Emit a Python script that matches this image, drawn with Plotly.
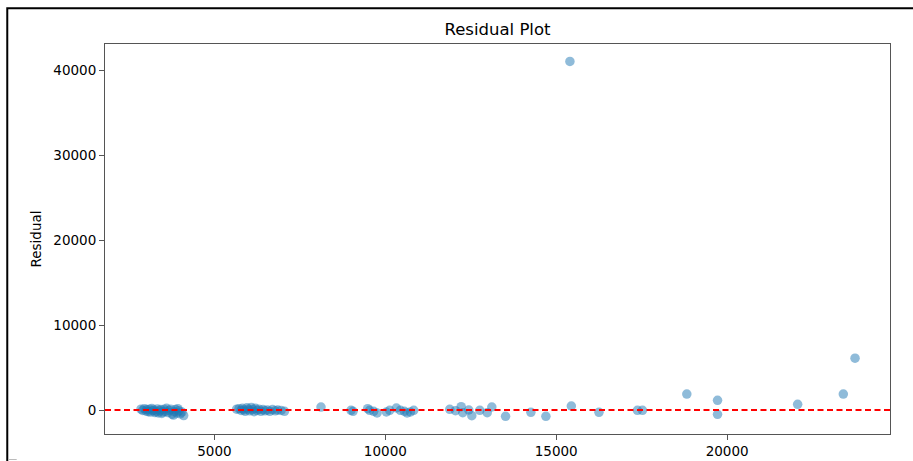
import plotly.graph_objects as go

# ---- data ----
predicted = [
    # cluster ~2800-4100
    2850, 2900, 2950, 3000, 3020, 3060, 3100, 3130, 3170, 3200, 3230, 3260,
    3300, 3330, 3360, 3400, 3430, 3460, 3500, 3530, 3560, 3600, 3640, 3680,
    3720, 3760, 3800, 3830, 3860, 3900, 3930, 3960, 4000, 4050, 4100,
    # cluster ~5600-7100
    5650, 5720, 5780, 5820, 5860, 5900, 5950, 5990, 6030, 6080, 6120, 6160,
    6200, 6250, 6300, 6360, 6420, 6480, 6550, 6620, 6700, 6780, 6850, 6950, 7050,
    # 8000-10800
    8118, 8996, 9055, 9483, 9541, 9659, 9758, 10031, 10128, 10324, 10441,
    10558, 10637, 10734, 10831,
    # 11800-24000
    11885, 12053, 12219, 12266, 12442, 12530, 12764, 12981, 13116, 13518,
    14259, 14698, 15401, 15442, 16251, 17376, 17523, 18821, 19720, 19720,
    22064, 23400, 23743,
]
residual = [
    100, -50, 150, -120, 60, -200, 100, -250, 180, -80, 0, -300,
    -150, 120, -350, -100, 50, -400, -250, 80, -150, 200, -300, -50,
    100, -500, -600, -200, 50, -350, 150, -100, -450, -250, -650,
    100, 150, -50, 200, 0, -150, 250, 100, -100, 300, 50, -200,
    200, -50, 100, -150, 50, -100, 0, -150, 50, -100, 0, -50, -150,
    350, -35, -150, 150, -35, -150, -350, -235, -35, 235, -35,
    -150, -350, -235, -35,
    82, -82, 387, -317, 0, -670, -35, -317, 352, -740,
    -270, -740, 41013, 470, -270, -35, -35, 1880, 1140, -505,
    670, 1880, 6100,
]
x_ticks = [5000, 10000, 15000, 20000]
y_ticks = [0, 10000, 20000, 30000, 40000]
x_range = [1798, 24766]
y_range = [-2824, 43059]

FONT = "DejaVu Sans"
SPINE = "#555555"

fig = go.Figure()
fig.add_trace(go.Scatter(
    x=predicted, y=residual, mode="markers",
    marker=dict(size=9.5, color="rgba(31,119,180,0.5)", line=dict(width=0)),
    showlegend=False, hoverinfo="x+y",
))

fig.add_shape(type="line", xref="paper", yref="y", x0=0, x1=1, y0=0, y1=0,
              line=dict(color="red", width=2, dash="6px,3.5px"), layer="above")

# figure frame (outer border)
fig.add_shape(type="path", xref="paper", yref="paper",
              path="M -0.1245,-0.2 L -0.1245,1.0917 L 1.1,1.0917",
              line=dict(color="black", width=2))
fig.add_shape(type="line", xref="paper", yref="paper",
              x0=-0.1225, x1=-0.1125, y0=-0.0654, y1=-0.0654,
              line=dict(color="#bbbbbb", width=1))

axis_common = dict(
    showline=True, mirror=True, linecolor=SPINE, linewidth=1,
    ticks="outside", ticklen=5, tickcolor=SPINE, tickwidth=1,
    showgrid=False, zeroline=False, tickformat="d",
    tickfont=dict(family=FONT, size=13.5, color="black"),
)
fig.update_xaxes(range=x_range, tickvals=x_ticks, **axis_common)
fig.update_yaxes(range=y_range, tickvals=y_ticks,
                 title=dict(text="Residual", font=dict(family=FONT, size=13.5, color="black"),
                            standoff=8),
                 **axis_common)

fig.update_layout(
    width=913, height=461,
    margin=dict(l=104.5, r=23, t=44, b=27, autoexpand=False),
    paper_bgcolor="white", plot_bgcolor="white",
    title=dict(text="Residual Plot", x=0.5, xref="paper", xanchor="center",
               y=1 - 29 / 461, yref="container", yanchor="middle",
               font=dict(family=FONT, size=16.5, color="black")),
    font=dict(family=FONT, color="black"),
)

fig.write_html(
    "out.html",
    config={"displayModeBar": False},
    post_script="document.body.style.margin='0';document.body.style.overflow='hidden';",
)
